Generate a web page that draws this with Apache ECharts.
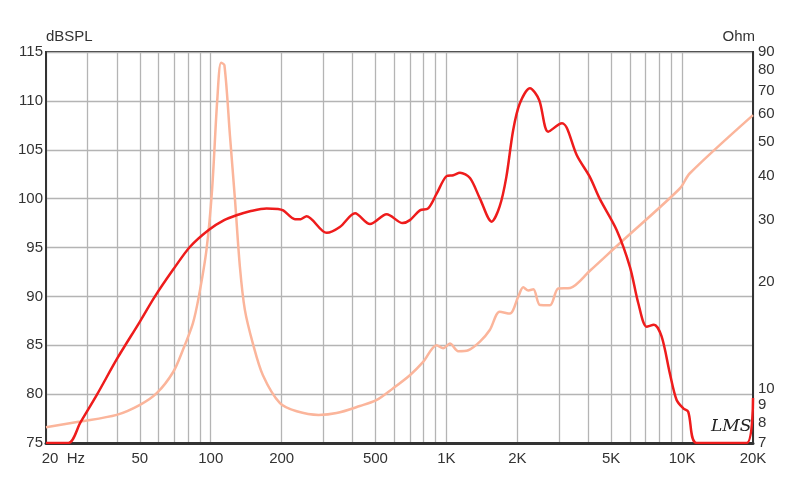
<!DOCTYPE html>
<html>
<head>
<meta charset="utf-8">
<script src="https://cdn.jsdelivr.net/npm/echarts@6/dist/echarts.min.js"></script>
<style>
html,body{margin:0;padding:0;background:#fff;}
#chart{width:800px;height:484px;}
</style>
</head>
<body>
<div id="chart"></div>
<script>
// Frequency grid lines (Hz) and labels
const gridFreqs = [20,30,40,50,60,70,80,90,100,200,300,400,500,600,700,800,900,1000,2000,3000,4000,5000,6000,7000,8000,9000,10000,20000];
const freqLabelValues = [20,50,100,200,500,1000,2000,5000,10000,20000];
const freqLabelTexts = ['20','50','100','200','500','1K','2K','5K','10K','20K'];
const ohmTicks = [7,8,9,10,20,30,40,50,60,70,80,90];

// SPL response (dB)
const freqSPL = [20,24.9,28,33,40,50,58,69.4,81.7,98,114,128.6,146.6,172.5,193,203,227.8,241,255,310.5,353,409.6,474,558,652,700,772,837,909,1002,1069,1142,1259,1388,1556,1683,1796,1920,2050,2263,2475,2706,3095,3249,3572,4065,4470,5276,6012,6521,7075,7597,8188,8880,9482,10116,10617,11530,18789,20000];
const spl = [75,75,77.1,80,83.6,87.4,90,92.77,95.08,96.8,97.8,98.3,98.7,99.0,98.95,98.8,97.9,97.9,98.2,96.5,97.1,98.5,97.4,98.4,97.5,97.8,98.8,99.0,100.5,102.3,102.4,102.65,102.1,100.0,97.64,99.2,102.2,107.0,109.75,111.3,110.1,106.85,107.7,107.2,104.46,102.2,100.0,96.8,93.0,89.3,86.9,87.1,85.9,82.1,79.4,78.55,78.2,75,75,79.6];

// Impedance (Ohm)
const freqZ = [20,27.9,39.9,50.1,59,69.4,76.1,84,89,95.9,101.3,106.6,110.6,114.3,120.7,126.8,133,139.6,151,166.5,196.7,231.6,287,342,429,504,593,700,797,909,969,1035,1123,1238,1388,1528,1683,1859,2017,2120,2227,2339,2497,2751,2983,3353,4065,5441,9785,10768,20000];
const ohm = [7.76,8.05,8.41,8.98,9.69,11.15,12.83,15.3,18.21,24.67,36.5,65.8,83.9,82.6,52,34.2,22.1,16.7,13.4,10.9,9.08,8.61,8.41,8.51,8.91,9.26,10.0,10.9,11.89,13.26,13.0,13.4,12.75,12.83,13.57,14.64,16.5,16.3,18.2,19.35,18.95,19.1,17.23,17.2,19.2,19.27,21.56,25.8,36.9,40.7,59.6];

const L = Math.log10;
const labelMap = {};
freqLabelValues.forEach((f,i)=>{ labelMap[L(f).toFixed(5)] = freqLabelTexts[i]; });
const hzPos = L(26.8);

const chart = echarts.init(document.getElementById('chart'), null, {renderer:'canvas'});
const font = 'Arial, "Liberation Sans", sans-serif';
chart.setOption({
  animation:false,
  backgroundColor:'#fff',
  grid:{left:46,right:47,top:52,bottom:41,show:true,borderColor:'#333',borderWidth:2,backgroundColor:'transparent'},
  xAxis:{
    type:'value', min:L(20), max:L(20000),
    axisLine:{show:true,lineStyle:{color:'#333',width:3}},
    axisTick:{show:false, customValues: gridFreqs.map(L)},
    splitLine:{show:true,lineStyle:{color:'#b4b4b4',width:1.3}},
    axisLabel:{
      customValues: freqLabelValues.map(L).concat([hzPos]),
      margin:8, color:'#333', fontSize:15, fontFamily:font,
      formatter:function(v){
        if (Math.abs(v-hzPos)<1e-6) return 'Hz';
        const t = labelMap[v.toFixed(5)];
        if (t==='20') return '{s|20}';
        return t || '';
      },
      rich:{s:{padding:[0,0,0,8],fontSize:15,color:'#333',fontFamily:font}}
    }
  },
  yAxis:[{
    type:'value', min:75, max:115, interval:5, position:'left',
    name:'dBSPL', nameLocation:'end', nameGap:6,
    nameTextStyle:{color:'#333',fontSize:15,fontFamily:font,align:'left'},
    axisLine:{show:true,lineStyle:{color:'#333',width:2}},
    axisTick:{show:false},
    splitLine:{show:true,lineStyle:{color:'#b4b4b4',width:1.3}},
    axisLabel:{margin:3,color:'#333',fontSize:15,fontFamily:font}
  },{
    type:'value', min:L(7), max:L(90), position:'right',
    name:'Ohm', nameLocation:'end', nameGap:6,
    nameTextStyle:{color:'#333',fontSize:15,fontFamily:font,align:'right',padding:[0,-2,0,0]},
    axisLine:{show:true,lineStyle:{color:'#333',width:2}},
    axisTick:{show:false},
    splitLine:{show:false},
    axisLabel:{
      customValues: ohmTicks.map(L),
      margin:5,color:'#333',fontSize:15,fontFamily:font,
      formatter:function(v){ return String(Math.round(Math.pow(10,v))); }
    }
  }],
  series:[{
    name:'Impedance', type:'line', yAxisIndex:1, showSymbol:false, smooth:0.3, clip:true,
    lineStyle:{color:'#fbb59b',width:2.5}, z:2,
    data: freqZ.map((f,i)=>[L(f),L(ohm[i])])
  },{
    name:'SPL', type:'line', yAxisIndex:0, showSymbol:false, smooth:0.3, clip:true,
    lineStyle:{color:'#ee1c1c',width:2.5}, z:3,
    data: freqSPL.map((f,i)=>[L(f),spl[i]])
  }],
  graphic:[{
    type:'text', left:711, top:418,
    style:{text:'LMS', fontSize:17, fontStyle:'italic', fontFamily:'"DejaVu Serif", serif', fill:'#222'}
  }]
});
</script>
</body>
</html>
